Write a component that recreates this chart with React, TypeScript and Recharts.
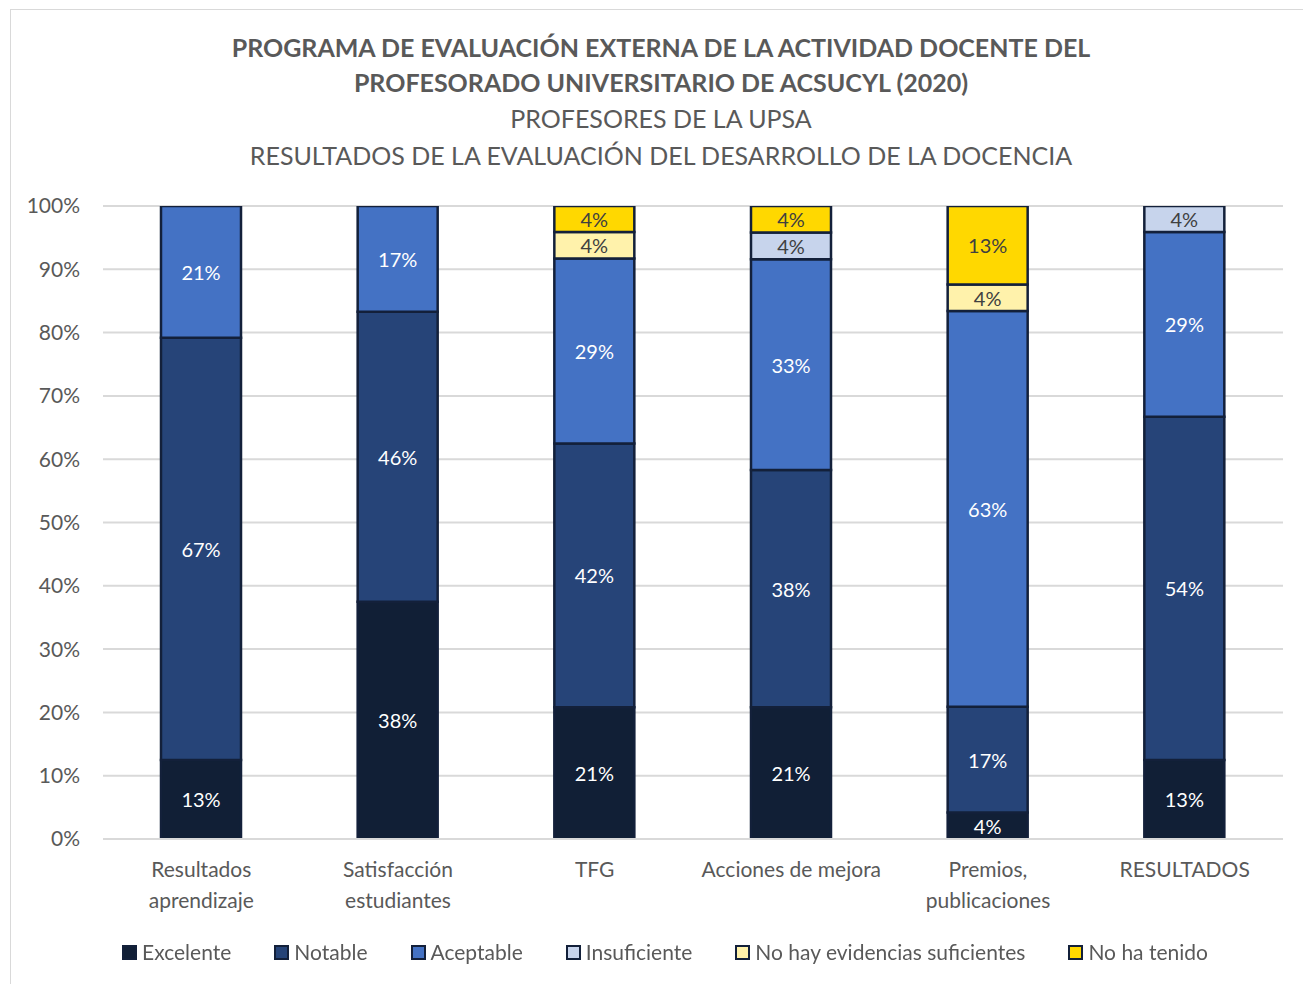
import React from "react";
import {
  BarChart,
  Bar,
  XAxis,
  YAxis,
  CartesianGrid,
  LabelList,
} from "recharts";

const categories = [
  "Resultados aprendizaje",
  "Satisfacción estudiantes",
  "TFG",
  "Acciones de mejora",
  "Premios, publicaciones",
  "RESULTADOS",
];

const excelente = [12.5, 37.5, 20.8, 20.8, 4.2, 12.5];
const notable = [66.7, 45.8, 41.7, 37.5, 16.7, 54.2];
const aceptable = [20.8, 16.7, 29.2, 33.3, 62.5, 29.2];
const insuficiente = [0, 0, 0, 4.2, 0, 4.2];
const noEvidencias = [0, 0, 4.2, 0, 4.2, 0];
const noTenido = [0, 0, 4.2, 4.2, 12.5, 0];

const yTicks = [0, 10, 20, 30, 40, 50, 60, 70, 80, 90, 100];

const series = [
  { key: "excelente", name: "Excelente", color: "#111f36", text: "#ffffff" },
  { key: "notable", name: "Notable", color: "#264478", text: "#ffffff" },
  { key: "aceptable", name: "Aceptable", color: "#4472c4", text: "#ffffff" },
  { key: "insuficiente", name: "Insuficiente", color: "#c7d4ec", text: "#404040" },
  { key: "noEvidencias", name: "No hay evidencias suficientes", color: "#fff2ab", text: "#404040" },
  { key: "noTenido", name: "No ha tenido", color: "#ffd800", text: "#404040" },
];

const data = categories.map((c, i) => ({
  name: c,
  excelente: excelente[i] || null,
  notable: notable[i] || null,
  aceptable: aceptable[i] || null,
  insuficiente: insuficiente[i] || null,
  noEvidencias: noEvidencias[i] || null,
  noTenido: noTenido[i] || null,
}));

const FONT = "Lato, 'Open Sans', sans-serif";
const STROKE = "#13203a";

function CatTick(props: any) {
  const { x, y, payload } = props;
  const text: string = payload.value;
  let lines = [text];
  if (text.length > 18) {
    const sp = text.indexOf(" ");
    lines = [text.slice(0, sp), text.slice(sp + 1)];
  }
  return (
    <text x={x} y={y} textAnchor="middle" fill="#595959" fontSize={21} fontFamily={FONT}>
      {lines.map((l, i) => (
        <tspan key={i} x={x} dy={i === 0 ? 30 : 31}>
          {l}
        </tspan>
      ))}
    </text>
  );
}

function makeLabel(color: string) {
  return (props: any) => {
    const { x, y, width, height, value } = props;
    if (!value) return null;
    return (
      <text
        x={x + width / 2}
        y={y + height / 2}
        textAnchor="middle"
        dominantBaseline="central"
        fill={color}
        fontSize={20}
        fontFamily={FONT}
      >
        {Math.round(value) + "%"}
      </text>
    );
  };
}

export default function App() {
  return (
    <div
      style={{
        position: "fixed",
        left: 0,
        top: 0,
        width: 1303,
        height: 984,
        background: "#fff",
        fontFamily: FONT,
      }}
    >
      <div
        style={{
          position: "absolute",
          left: 10,
          top: 9,
          width: 1310,
          height: 1000,
          border: "1px solid #d9d9d9",
        }}
      />
      <div
        style={{
          position: "absolute",
          left: 0,
          top: 30,
          width: 1322,
          textAlign: "center",
          color: "#595959",
        }}
      >
        <div style={{ fontSize: 25, fontWeight: 700, lineHeight: "35px" }}>
          PROGRAMA DE EVALUACIÓN EXTERNA DE LA ACTIVIDAD DOCENTE DEL
        </div>
        <div style={{ fontSize: 25, fontWeight: 700, lineHeight: "35px" }}>
          PROFESORADO UNIVERSITARIO DE ACSUCYL (2020)
        </div>
        <div style={{ fontSize: 25, lineHeight: "37px" }}>PROFESORES DE LA UPSA</div>
        <div style={{ fontSize: 25, lineHeight: "36px" }}>
          RESULTADOS DE LA EVALUACIÓN DEL DESARROLLO DE LA DOCENCIA
        </div>
      </div>
      <div style={{ position: "absolute", left: 0, top: 0 }}>
        <BarChart
          width={1303}
          height={984}
          data={data}
          margin={{ top: 206, right: 20, bottom: 115, left: 5 }}
          barSize={80}
        >
          <CartesianGrid vertical={false} stroke="#d9d9d9" strokeWidth={2} />
          <XAxis
            dataKey="name"
            tick={<CatTick />}
            tickLine={false}
            axisLine={{ stroke: "#d9d9d9", strokeWidth: 2 }}
            interval={0}
          />
          <YAxis
            width={98}
            domain={[0, 100]}
            allowDataOverflow
            ticks={yTicks}
            tickFormatter={(v: number) => v + "%"}
            tickLine={false}
            axisLine={false}
            tickSize={0}
            tickMargin={23}
            tick={{ fill: "#595959", fontSize: 21, fontFamily: FONT }}
          />
          {series.map((s) => (
            <Bar
              key={s.key}
              dataKey={s.key}
              name={s.name}
              stackId="a"
              fill={s.color}
              stroke={STROKE}
              strokeWidth={2.5}
              isAnimationActive={false}
            >
              <LabelList dataKey={s.key} content={makeLabel(s.text)} />
            </Bar>
          ))}
        </BarChart>
      </div>
      <div
        style={{
          position: "absolute",
          left: 0,
          top: 938,
          width: 1330,
          display: "flex",
          justifyContent: "center",
          gap: 43,
          color: "#595959",
          fontSize: 21,
          lineHeight: "28px",
        }}
      >
        {series.map((s) => (
          <div key={s.key} style={{ display: "flex", alignItems: "center" }}>
            <span
              style={{
                display: "inline-block",
                width: 11,
                height: 11,
                background: s.color,
                border: `2px solid ${STROKE}`,
                marginRight: 5,
              }}
            />
            {s.name}
          </div>
        ))}
      </div>
    </div>
  );
}
